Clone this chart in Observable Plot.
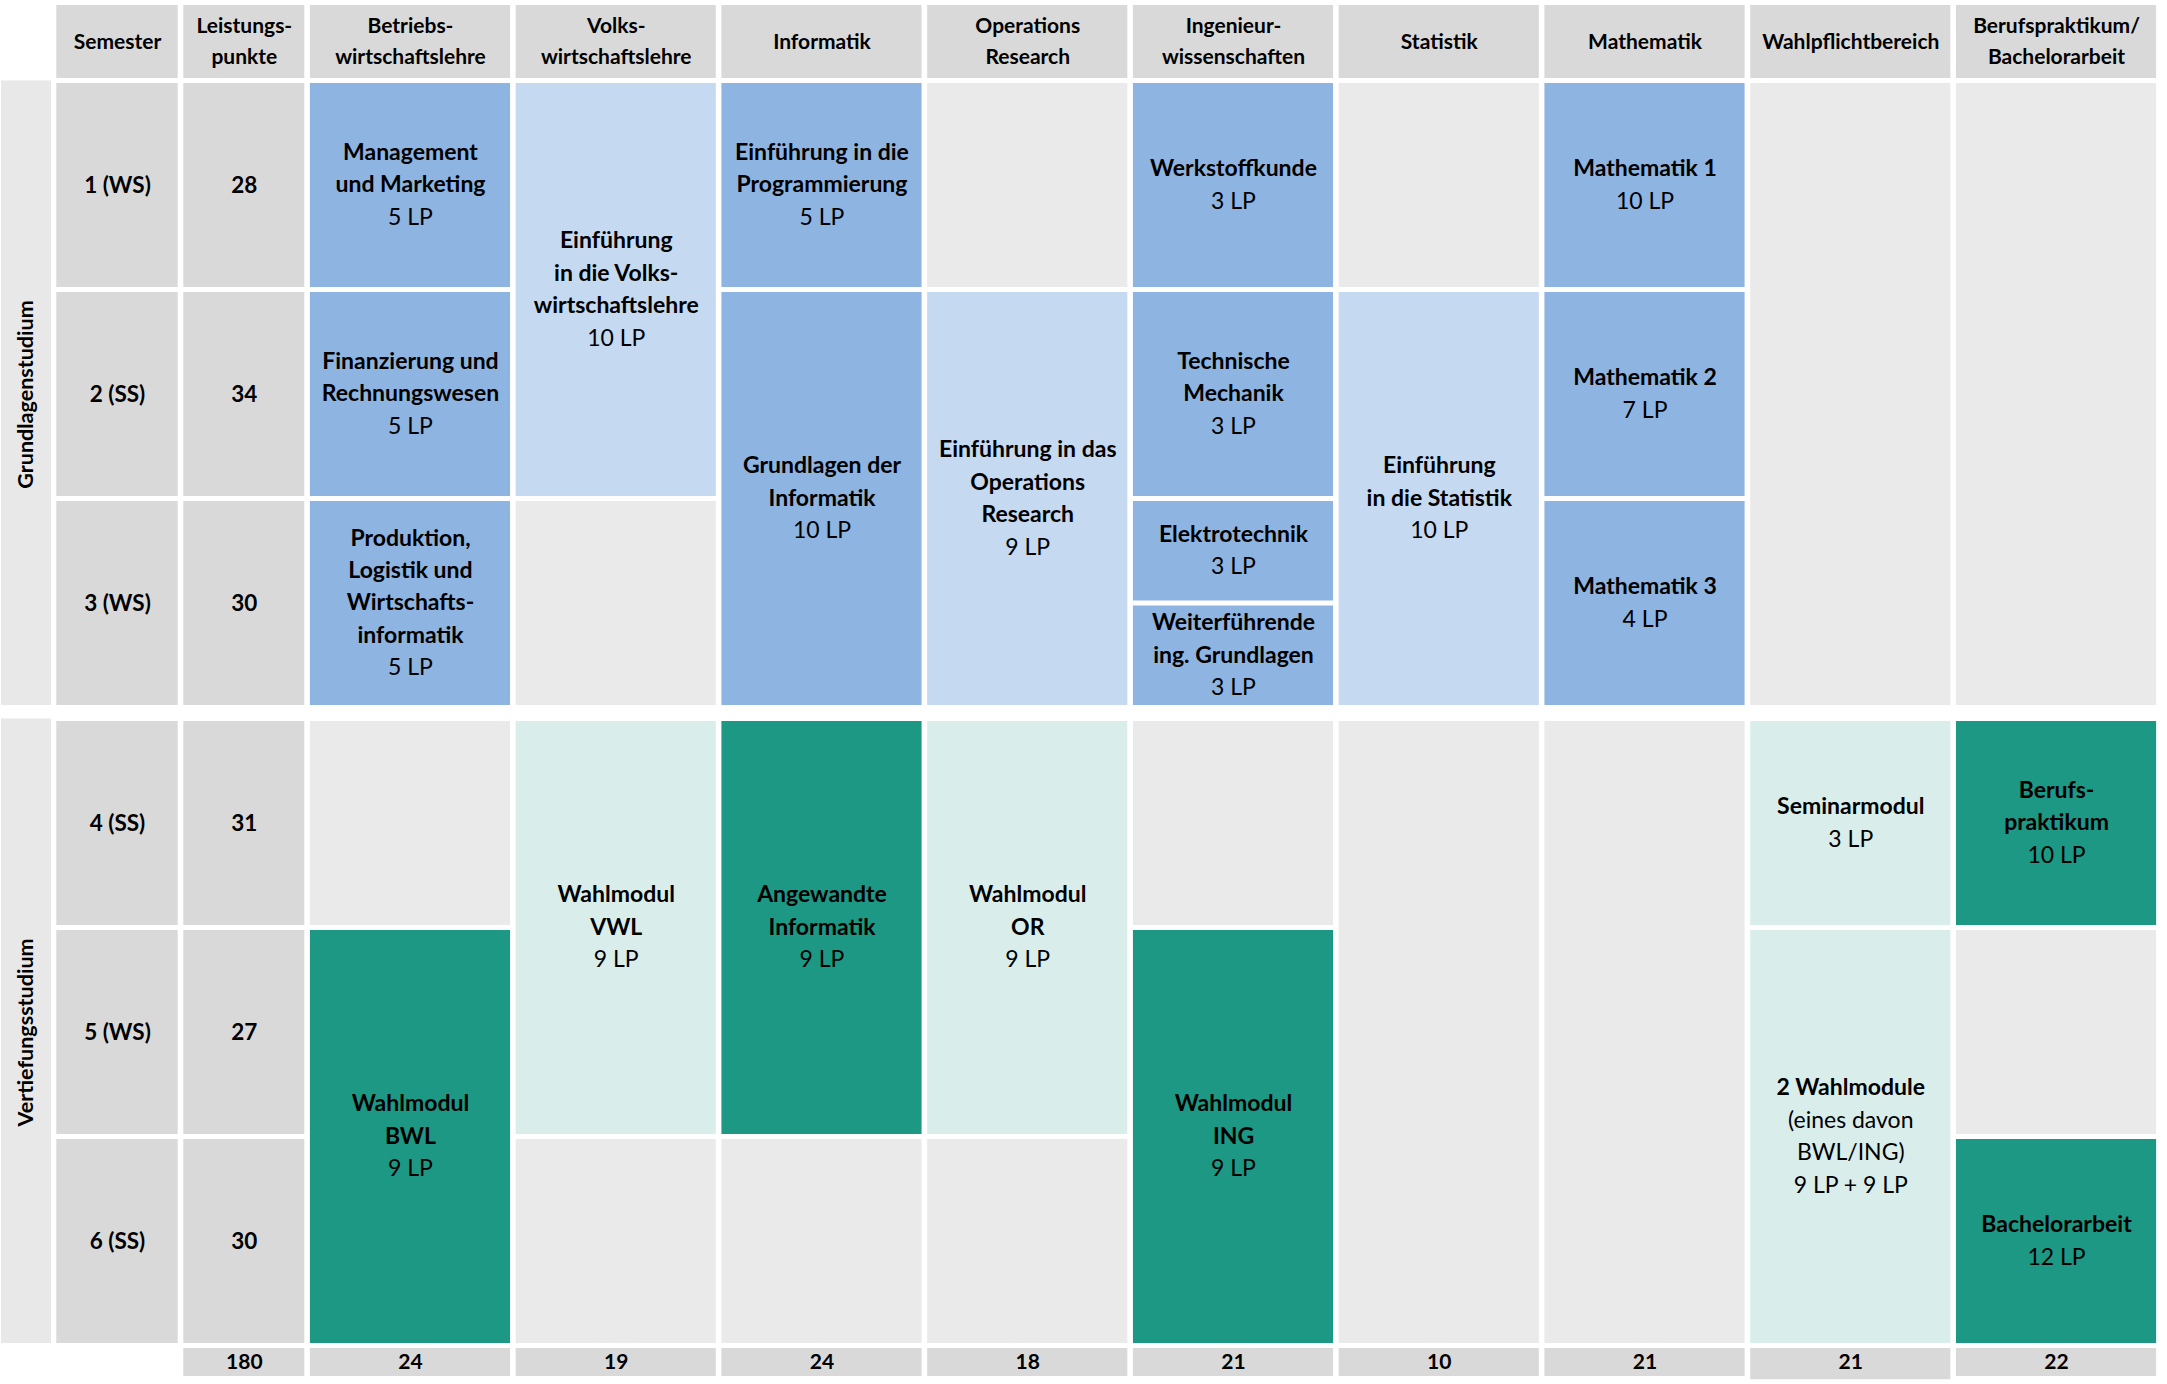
<!DOCTYPE html>
<html><head><meta charset="utf-8">
<script src="https://cdn.jsdelivr.net/npm/d3@7"></script>
<script src="https://cdn.jsdelivr.net/npm/@observablehq/plot@0.6"></script>
<style>
html,body{margin:0;padding:0;background:#fff;}
#chart svg{display:block;}
</style></head><body><div id="chart"></div>
<script>
// ---------- data ----------
const columnKeys = ["SEM","LP","BWL","VWL","INF","OR","ING","STAT","MATH","WPF","BA"];
const columnHeaders = ["Semester","Leistungs-\npunkte","Betriebs-\nwirtschaftslehre","Volks-\nwirtschaftslehre","Informatik","Operations\nResearch","Ingenieur-\nwissenschaften","Statistik","Mathematik","Wahlpflichtbereich","Berufspraktikum/\nBachelorarbeit"];
const semesterLabels = ["1 (WS)","2 (SS)","3 (WS)","4 (SS)","5 (WS)","6 (SS)"];
const semesterCredits = [28,34,30,31,27,30];
const totalKeys = ["LP","BWL","VWL","INF","OR","ING","STAT","MATH","WPF","BA"];
const totalCredits = [180,24,19,24,18,21,10,21,21,22];
const phaseLabels = ["Grundlagenstudium","Vertiefungsstudium"];
const phaseSpans = [[0,3],[3,6]];
// modules: column, semester span [from,to) in semester units, bold title, normal detail, kind
const modules = [
  {col:"BWL", from:0, to:1, title:"Management\nund Marketing", detail:"5 LP", kind:"blau"},
  {col:"BWL", from:1, to:2, title:"Finanzierung und\nRechnungswesen", detail:"5 LP", kind:"blau"},
  {col:"BWL", from:2, to:3, title:"Produktion,\nLogistik und\nWirtschafts-\ninformatik", detail:"5 LP", kind:"blau"},
  {col:"BWL", from:3, to:4, title:"", detail:"", kind:"leer"},
  {col:"BWL", from:4, to:6, title:"Wahlmodul\nBWL", detail:"9 LP", kind:"gruen"},
  {col:"VWL", from:0, to:2, title:"Einführung\nin die Volks-\nwirtschaftslehre", detail:"10 LP", kind:"hellblau"},
  {col:"VWL", from:2, to:3, title:"", detail:"", kind:"leer"},
  {col:"VWL", from:3, to:5, title:"Wahlmodul\nVWL", detail:"9 LP", kind:"hellgruen"},
  {col:"VWL", from:5, to:6, title:"", detail:"", kind:"leer"},
  {col:"INF", from:0, to:1, title:"Einführung in die\nProgrammierung", detail:"5 LP", kind:"blau"},
  {col:"INF", from:1, to:3, title:"Grundlagen der\nInformatik", detail:"10 LP", kind:"blau"},
  {col:"INF", from:3, to:5, title:"Angewandte\nInformatik", detail:"9 LP", kind:"gruen"},
  {col:"INF", from:5, to:6, title:"", detail:"", kind:"leer"},
  {col:"OR", from:0, to:1, title:"", detail:"", kind:"leer"},
  {col:"OR", from:1, to:3, title:"Einführung in das\nOperations\nResearch", detail:"9 LP", kind:"hellblau"},
  {col:"OR", from:3, to:5, title:"Wahlmodul\nOR", detail:"9 LP", kind:"hellgruen"},
  {col:"OR", from:5, to:6, title:"", detail:"", kind:"leer"},
  {col:"ING", from:0, to:1, title:"Werkstoffkunde", detail:"3 LP", kind:"blau"},
  {col:"ING", from:1, to:2, title:"Technische\nMechanik", detail:"3 LP", kind:"blau"},
  {col:"ING", from:2, to:2.5, title:"Elektrotechnik", detail:"3 LP", kind:"blau"},
  {col:"ING", from:2.5, to:3, title:"Weiterführende\ning. Grundlagen", detail:"3 LP", kind:"blau"},
  {col:"ING", from:3, to:4, title:"", detail:"", kind:"leer"},
  {col:"ING", from:4, to:6, title:"Wahlmodul\nING", detail:"9 LP", kind:"gruen"},
  {col:"STAT", from:0, to:1, title:"", detail:"", kind:"leer"},
  {col:"STAT", from:1, to:3, title:"Einführung\nin die Statistik", detail:"10 LP", kind:"hellblau"},
  {col:"STAT", from:3, to:6, title:"", detail:"", kind:"leer"},
  {col:"MATH", from:0, to:1, title:"Mathematik 1", detail:"10 LP", kind:"blau"},
  {col:"MATH", from:1, to:2, title:"Mathematik 2", detail:"7 LP", kind:"blau"},
  {col:"MATH", from:2, to:3, title:"Mathematik 3", detail:"4 LP", kind:"blau"},
  {col:"MATH", from:3, to:6, title:"", detail:"", kind:"leer"},
  {col:"WPF", from:0, to:3, title:"", detail:"", kind:"leer"},
  {col:"WPF", from:3, to:4, title:"Seminarmodul", detail:"3 LP", kind:"hellgruen"},
  {col:"WPF", from:4, to:6, title:"2 Wahlmodule", detail:"(eines davon\nBWL/ING)\n9 LP + 9 LP", kind:"hellgruen"},
  {col:"BA", from:0, to:3, title:"", detail:"", kind:"leer"},
  {col:"BA", from:3, to:4, title:"Berufs-\npraktikum", detail:"10 LP", kind:"gruen"},
  {col:"BA", from:4, to:5, title:"", detail:"", kind:"leer"},
  {col:"BA", from:5, to:6, title:"Bachelorarbeit", detail:"12 LP", kind:"gruen"}
];
const kinds = ["kopf","phase","leer","blau","hellblau","gruen","hellgruen"];
const kindColors = ["#d9d9d9","#e8e8e8","#eaeaea","#8eb4e2","#c5d9f1","#1c9884","#d9eeeb"];

// ---------- layout helpers ----------
const colIndex = k => columnKeys.indexOf(k) - 2;          // SEM=-2, LP=-1, subjects 0..8
const yTop = b => (b >= 3 ? b + 0.5 : b);                  // gap between study phases
const yBot = b => (b > 3 ? b + 0.5 : b);
const nbspLines = n => "\u00a0\n".repeat(n);
const lineCount = s => (s ? s.split("\n").length : 0);

const cells = [];
columnKeys.forEach((k, i) => cells.push({x1: colIndex(k), x2: colIndex(k) + 1, y1: -1, y2: 0, kind: "kopf"}));
semesterLabels.forEach((s, i) => {
  cells.push({x1: colIndex("SEM"), x2: colIndex("SEM") + 1, y1: yTop(i), y2: yBot(i + 1), kind: "kopf"});
  cells.push({x1: colIndex("LP"), x2: colIndex("LP") + 1, y1: yTop(i), y2: yBot(i + 1), kind: "kopf"});
});
totalKeys.forEach(k => cells.push({x1: colIndex(k), x2: colIndex(k) + 1, y1: 6.5, y2: k === "WPF" ? 7.6 : 7.5, kind: "kopf"}));
modules.forEach(m => cells.push({x1: colIndex(m.col), x2: colIndex(m.col) + 1, y1: yTop(m.from), y2: yBot(m.to), kind: m.kind}));
const phaseCells = phaseLabels.map((p, i) => ({x1: -3, x2: -2, y1: yTop(phaseSpans[i][0]), y2: yBot(phaseSpans[i][1]), kind: "phase", label: p}));

const moduleText = modules.filter(m => m.title || m.detail).map(m => {
  const nt = lineCount(m.title), nd = lineCount(m.detail);
  return {
    x: colIndex(m.col) + 0.5,
    y: (yTop(m.from) + yBot(m.to)) / 2,
    bold: m.title + (nd ? "\n" + nbspLines(nd).slice(0, -1) : ""),
    normal: nbspLines(nt) + m.detail,
    kind: m.kind
  };
});

const FONT = "Lato, 'Open Sans', sans-serif";

const chart = Plot.plot({
  width: 2167,
  height: 1384,
  margin: 0,
  x: {type: "linear", domain: [-3, -2, -1, 0, 9], range: [-1.5, 53.5, 180.5, 307.1, 2158.9], axis: null},
  y: {type: "linear", domain: [-1, 0, 3, 3.5, 6.5, 7.5], range: [2.5, 80.5, 707.5, 718.5, 1345.5, 1378.5], axis: null},
  color: {type: "ordinal", domain: kinds, range: kindColors},
  style: {fontFamily: FONT, background: "white", color: "#000"},
  marks: [
    Plot.rect(phaseCells, {x1: "x1", x2: "x2", y1: "y1", y2: "y2", fill: "kind", insetLeft: 2.5, insetRight: 2.5, insetTop: 0, insetBottom: 2.5}),
    Plot.rect(cells, {x1: "x1", x2: "x2", y1: "y1", y2: "y2", fill: "kind", insetLeft: 2.8, insetRight: 2.8, insetTop: 2.5, insetBottom: 2.5}),
    // column headers
    Plot.text(columnKeys, {x: k => colIndex(k) + 0.5, y: -0.5, dy: -3, text: (k, i) => columnHeaders[i], fontWeight: "bold", fontSize: 21, lineHeight: 1.47, fill: "#000"}),
    // semesters
    Plot.text(semesterLabels, {x: colIndex("SEM") + 0.5, y: (d, i) => (yTop(i) + yBot(i + 1)) / 2, text: d => d, fontWeight: "bold", fontSize: 22.5, fill: "#000"}),
    Plot.text(semesterCredits, {x: colIndex("LP") + 0.5, y: (d, i) => (yTop(i) + yBot(i + 1)) / 2, text: d => String(d), fontWeight: "bold", fontSize: 22.5, fill: "#000"}),
    // totals
    Plot.text(totalCredits, {x: (d, i) => colIndex(totalKeys[i]) + 0.5, y: 7, text: d => String(d), fontWeight: "bold", fontSize: 21, fill: "#000"}),
    // phases
    Plot.text(phaseCells, {x: -2.5, y: d => (d.y1 + d.y2) / 2, text: "label", rotate: -90, fontWeight: "bold", fontSize: 21.5, fill: "#000"}),
    // module text
    Plot.text(moduleText, {x: "x", y: "y", dy: -3.5, text: "bold", fontWeight: "bold", fontSize: 23, lineHeight: 1.41, fill: "#000"}),
    Plot.text(moduleText, {x: "x", y: "y", dy: -3.5, text: "normal", fontWeight: "normal", fontSize: 23, lineHeight: 1.41, fill: "#000"})
  ]
});
document.getElementById("chart").appendChild(chart);
</script>
</body></html>
